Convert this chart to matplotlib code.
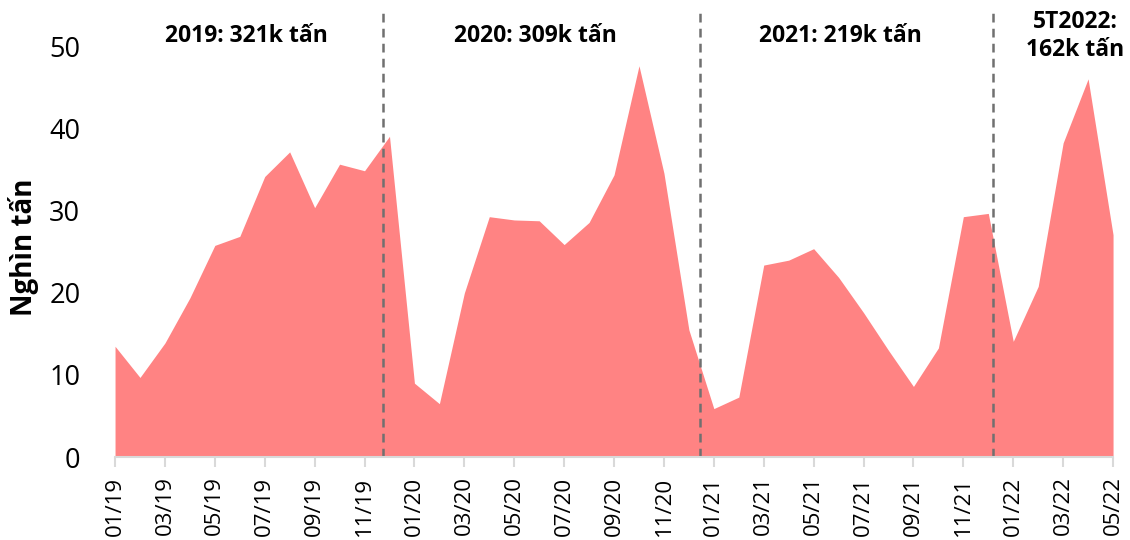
import matplotlib
matplotlib.use("Agg")
import matplotlib.pyplot as plt

months = [f"{m:02d}/{y}" for y in (19, 20, 21) for m in range(1, 13)] + [f"{m:02d}/22" for m in range(1, 6)]
values = [13.5, 9.7, 13.9, 19.4, 25.8, 26.9, 34.2, 37.2, 30.4, 35.7, 34.9, 39.1,
          9.0, 6.5, 20.0, 29.3, 28.9, 28.8, 25.9, 28.6, 34.4, 47.7, 34.6, 15.5,
          5.9, 7.3, 23.4, 24.0, 25.4, 21.9, 17.6, 13.0, 8.6, 13.3, 29.3, 29.7,
          14.1, 20.8, 38.3, 46.1, 27.1]
dividers = [10.72, 23.43, 35.18]
labels = ["2019: 321k tấn", "2020: 309k tấn", "2021: 219k tấn", "5T2022:\n162k tấn"]
label_x = [5.25, 16.83, 29.08, 38.5]
yticks = [0, 10, 20, 30, 40, 50]

FONT = ["Open Sans", "DejaVu Sans"]

fig = plt.figure(figsize=(11.3, 5.4), dpi=100)
ax = fig.add_axes([0.1018, 0.1537, 0.8832, 0.8278])
x = list(range(len(values)))
ax.fill_between(x, values, 0, color="#FF8383", linewidth=0)
ax.set_xlim(0, len(values) - 1)
ax.set_ylim(0, 54.5)

for d in dividers:
    ax.axvline(d, color="#707070", linestyle=(0, (3.5, 2.5)), linewidth=1.8)

for t, lx in zip(labels, label_x):
    ax.text(lx, 51.3, t, ha="center", va="center", fontsize=16.5, fontweight="bold",
            family=FONT, linespacing=1.25)

for s in ("top", "right", "left"):
    ax.spines[s].set_visible(False)
ax.spines["bottom"].set_color("#d9d9d9")
ax.spines["bottom"].set_linewidth(1.5)

ax.set_yticks(yticks)
ax.set_yticklabels([str(v) for v in yticks], family=FONT, fontsize=19.5)
ax.tick_params(axis="y", length=0, pad=25)

ax.set_xticks(x[::2])
ax.set_xticklabels(months[::2], rotation=90, family=FONT, fontsize=16)
ax.tick_params(axis="x", length=7, width=1.5, color="#d9d9d9", pad=7)

ax.set_ylabel("Nghìn tấn", family=FONT, fontsize=20, fontweight="bold")
ax.yaxis.set_label_coords(-0.076, 0.47)

fig.savefig("out.png", dpi=100)
